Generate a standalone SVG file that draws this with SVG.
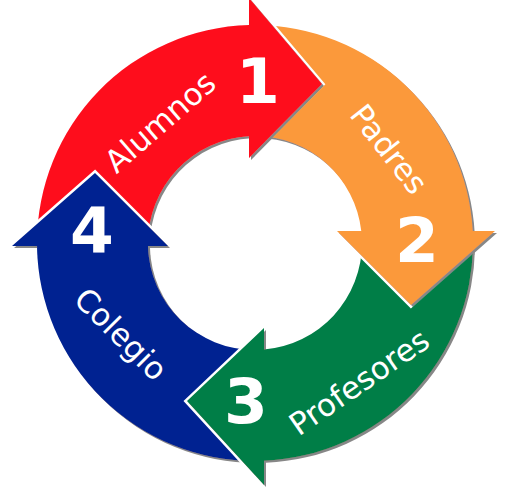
<svg xmlns="http://www.w3.org/2000/svg" width="517" height="495" viewBox="0 0 517 495">
<style>
.lbl{font-family:"DejaVu Sans","Liberation Sans",sans-serif;font-size:31px;fill:#fff;text-anchor:middle}
.num{font-family:"DejaVu Sans","Liberation Sans",sans-serif;font-weight:bold;font-size:63px;fill:#fff;text-anchor:middle}
</style>
<defs>
<filter id="sh" x="-10%" y="-10%" width="130%" height="130%">
<feDropShadow dx="2" dy="2" stdDeviation="0.7" flood-color="#7a7a7a" flood-opacity="0.9"/>
</filter>
<mask id="mRed" maskUnits="userSpaceOnUse" x="0" y="0" width="517" height="495">
<rect width="517" height="495" fill="#fff"/>
<polygon points="12,246 95,173 168,246" fill="#000" stroke="#000" stroke-width="5"/>
</mask>
<mask id="mOrange" maskUnits="userSpaceOnUse" x="0" y="0" width="517" height="495">
<rect width="517" height="495" fill="#fff"/>
<polygon points="249,-2 322,84 249,158" fill="#000" stroke="#000" stroke-width="5"/>
</mask>
<mask id="mGreen" maskUnits="userSpaceOnUse" x="0" y="0" width="517" height="495">
<rect width="517" height="495" fill="#fff"/>
<polygon points="337,231 495,231 411,305" fill="#000" stroke="#000" stroke-width="5"/>
</mask>
<mask id="mBlue" maskUnits="userSpaceOnUse" x="0" y="0" width="517" height="495">
<rect width="517" height="495" fill="#fff"/>
<polygon points="264,328 187,401 264,485" fill="#000" stroke="#000" stroke-width="5"/>
</mask>
</defs>
<g id="connectors"/>
<g id="alumnos">
<path d="M 37,243 A 218 218 0 0 1 249,25.1 L 249,-2 L 322,84 L 249,158 L 249,136.2 A 107 107 0 0 0 148,243 Z" fill="#FE0B1E" mask="url(#mRed)" filter="url(#sh)"/>
<text class="lbl" transform="translate(160,122) rotate(-41)" x="0" y="11">Alumnos</text>
<text class="num" x="258" y="103">1</text>
</g>
<g id="padres">
<path d="M 255,25 A 218 218 0 0 1 472.7,231 L 495,231 L 411,305 L 337,231 L 361.3,231 A 107 107 0 0 0 255,136 Z" fill="#FB993A" mask="url(#mOrange)" filter="url(#sh)"/>
<text class="lbl" transform="translate(389,149) rotate(52)" x="0" y="11">Padres</text>
<text class="num" x="417" y="262">2</text>
</g>
<g id="profesores">
<path d="M 473,243 A 218 218 0 0 1 264,460.8 L 264,485 L 187,401 L 264,328 L 264,349.6 A 107 107 0 0 0 362,243 Z" fill="#017E47" mask="url(#mGreen)" filter="url(#sh)"/>
<text class="lbl" transform="translate(359,382) rotate(-34.5)" x="0" y="11">Profesores</text>
<text class="num" x="246" y="423">3</text>
</g>
<g id="colegio">
<path d="M 255,461 A 218 218 0 0 1 37,246 L 12,246 L 95,173 L 168,246 L 148,246 A 107 107 0 0 0 255,350 Z" fill="#012491" mask="url(#mBlue)" filter="url(#sh)"/>
<text class="lbl" transform="translate(121,334) rotate(45)" x="0" y="11">Colegio</text>
<text class="num" x="92" y="252">4</text>
</g>
</svg>
